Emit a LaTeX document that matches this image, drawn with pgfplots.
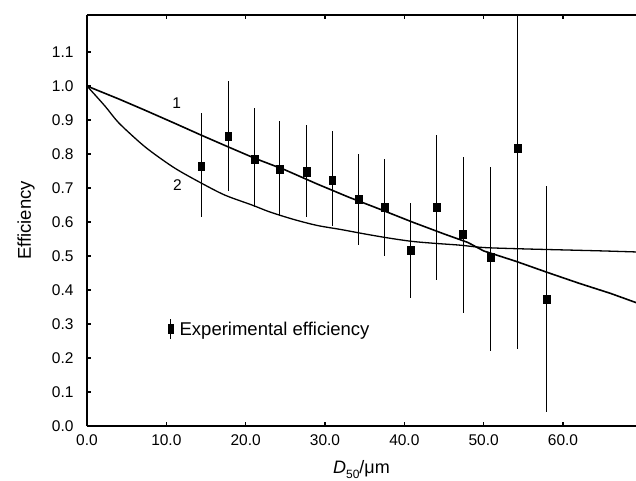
\documentclass[border=0pt]{standalone}
\usepackage{fontspec}
\setmainfont{Liberation Sans}
\usepackage{pgfplots}
\pgfplotsset{compat=1.18}
\begin{document}
\begin{tikzpicture}
\begin{axis}[
  scale only axis,
  width=549pt, height=411pt,
  xmin=0, xmax=69.2, ymin=0, ymax=1.209,
  axis x line=box, axis y line=left,
  axis line style={-, line width=1.6pt},
  tick align=inside,
  major tick length=4pt,
  tick style={line width=1.2pt, black},
  xtick={0,10,20,30,40,50,60},
  ytick={0,0.1,0.2,0.3,0.4,0.5,0.6,0.7,0.8,0.9,1.0,1.1},
  /pgf/number format/assume math mode=true,
  /pgf/number format/.cd, fixed, fixed zerofill, precision=1,
  /pgfplots/.cd,
  ticklabel style={font=\fontsize{15.5}{18}\selectfont},
  xticklabel style={yshift=-5pt},
  yticklabel style={xshift=-10pt},
  every axis y label/.style={at={(axis description cs:0,0.5)}, xshift=-61pt, rotate=90, anchor=center},
  every axis x label/.style={at={(axis description cs:0.5,0)}, yshift=-47pt, anchor=base},
  ylabel={\fontsize{18.5}{20}\selectfont Efficiency},
  xlabel={\fontsize{18}{20}\selectfont \textit{D}\raisebox{-0.3em}{\fontsize{12}{12}\selectfont 50}/μm},
  legend style={at={(axis cs:10.15,0.285)}, anchor=west, draw=none, fill=none, inner sep=0pt,
    font=\fontsize{18.5}{20}\selectfont, nodes={inner sep=1pt}},
  legend cell align=left,
]
\coordinate (bl) at (rel axis cs:0,0);
\coordinate (tr) at (rel axis cs:1,1);
% theoretical curve 1
\addplot[black, line width=1.6pt, forget plot] coordinates {
 (0,1.0) (4,0.962) (7.3,0.929) (11.1,0.890) (14.45,0.855) (17.8,0.821) (21.2,0.787)
 (25,0.753) (29,0.712) (33,0.673) (37,0.637) (41,0.600) (45,0.565) (48,0.540)
 (50,0.515) (54,0.485) (58,0.452) (62,0.420) (66,0.390) (69.2,0.363)};
% theoretical curve 2
\addplot[black, line width=1.3pt, smooth, tension=0.5, forget plot] coordinates {
 (0,1.0) (2.27,0.941) (3.95,0.893) (6.47,0.838) (8.15,0.806) (11.1,0.758)
 (14.45,0.714) (17.4,0.679) (20.8,0.650) (23,0.630) (26,0.608) (29,0.590)
 (32,0.578) (35,0.565) (38,0.553) (41,0.543) (44,0.537) (47,0.532) (50,0.525)
 (55,0.521) (60,0.518) (65,0.515) (69.2,0.512)};
% experimental efficiency
\addplot[black, only marks, mark=square*, mark size=3.4pt, mark options={yscale=1.2},
  error bars/.cd, y dir=both, y explicit, error mark=none,
  error bar style={line width=1.1pt, black},
  /pgfplots/legend image code/.code={
    \draw[line width=1.1pt] (0pt,-10pt) -- (0pt,10pt);
    \fill (-2.5pt,-4.5pt) rectangle (2.5pt,4.5pt);
    \path (8pt,0pt);}
] coordinates {
 (14.4,0.765) += (0,0.155) -= (0,0.150)
 (17.8,0.853) += (0,0.162) -= (0,0.163)
 (21.1,0.785) += (0,0.150) -= (0,0.140)
 (24.3,0.756) += (0,0.141) -= (0,0.138)
 (27.7,0.748) += (0,0.137) -= (0,0.133)
 (30.9,0.724) += (0,0.144) -= (0,0.136)
 (34.2,0.667) += (0,0.133) -= (0,0.135)
 (37.5,0.643) += (0,0.142) -= (0,0.143)
 (40.8,0.518) += (0,0.137) -= (0,0.142)
 (44.1,0.644) += (0,0.212) -= (0,0.214)
 (47.4,0.565) += (0,0.225) -= (0,0.232)
 (50.9,0.497) += (0,0.265) -= (0,0.277)
 (54.3,0.818) += (0,0.480) -= (0,0.592)
 (57.9,0.374) += (0,0.332) -= (0,0.334)
};
\addlegendentry{Experimental efficiency}
\node[font=\fontsize{15.5}{18}\selectfont] at (axis cs:11.3,0.95) {1};
\node[font=\fontsize{15.5}{18}\selectfont] at (axis cs:11.4,0.71) {2};
\end{axis}
\pgfresetboundingbox
\path[use as bounding box] ([xshift=-87pt,yshift=-54pt]bl) rectangle ([yshift=15pt]tr);
\end{tikzpicture}
\end{document}
